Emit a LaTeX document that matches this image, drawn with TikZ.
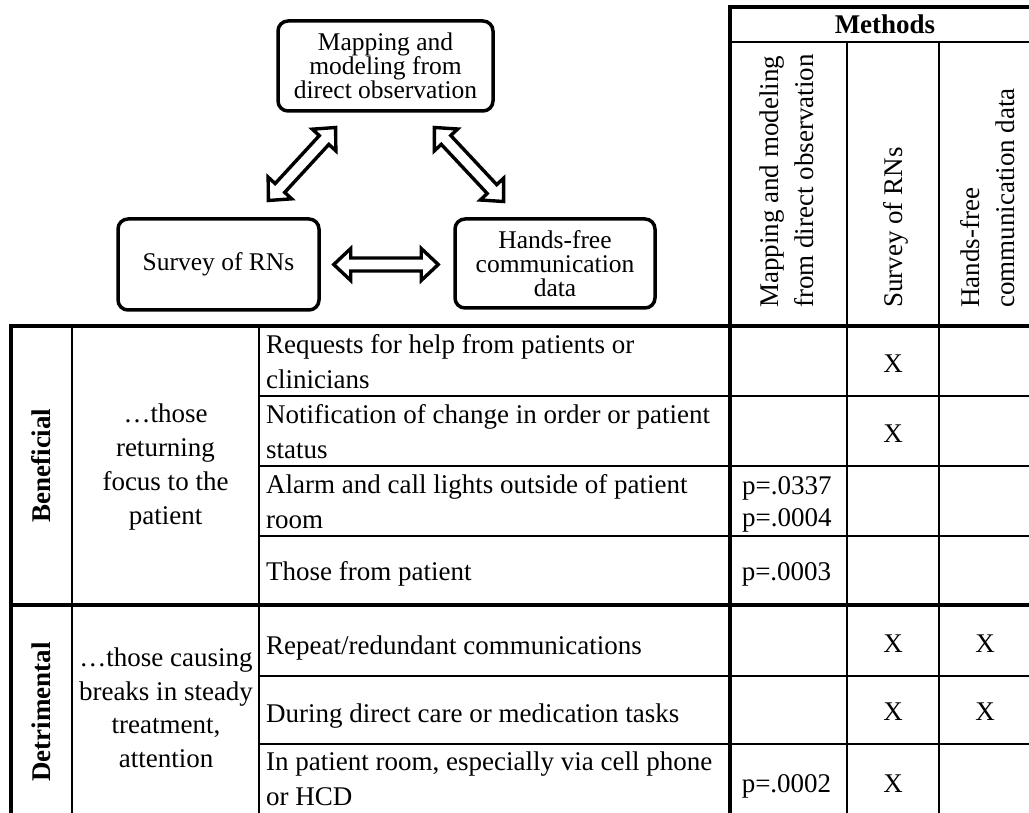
\documentclass[tikz,border=0pt]{standalone}
\usepackage{fontspec}
\setmainfont{Liberation Serif}
\usetikzlibrary{calc}

\newcommand{\cellfont}{\fontsize{27pt}{35pt}\selectfont}
\newcommand{\stagefont}{\fontsize{25.5pt}{24pt}\selectfont}

\tikzset{
  heavy/.style={line width=4.5pt, line join=miter},
  light/.style={line width=2pt},
  stage/.style={draw, line width=3.5pt, rounded corners=10pt, align=center,
    inner sep=0pt, font=\stagefont},
  entry/.style={inner sep=0pt, align=left, anchor=north west, font=\cellfont},
  single/.style={inner sep=0pt, anchor=base west, font=\cellfont},
  tick/.style={inner sep=0pt, anchor=base, font=\cellfont},
  group/.style={inner sep=0pt, align=center, font=\fontsize{27pt}{34pt}\selectfont},
  side/.style={inner sep=0pt, rotate=90, font=\cellfont\bfseries},
  head/.style={inner sep=0pt, rotate=90, anchor=west, align=left, font=\cellfont},
  % hollow double-headed block arrow between two points
  twoway/.style={draw, line width=3.4pt, line join=miter, to path={
    let \p1=(\tikztostart), \p2=(\tikztotarget),
        \n1={atan2(\y2-\y1,\x2-\x1)}
    in (\p1)
    -- ($(\p1)+(\n1:17pt)+(\n1+90:16pt)$)
    -- ($(\p1)+(\n1:17pt)+(\n1+90:6.5pt)$)
    -- ($(\p2)+(\n1:-17pt)+(\n1+90:6.5pt)$)
    -- ($(\p2)+(\n1:-17pt)+(\n1+90:16pt)$)
    -- (\p2)
    -- ($(\p2)+(\n1:-17pt)+(\n1-90:16pt)$)
    -- ($(\p2)+(\n1:-17pt)+(\n1-90:6.5pt)$)
    -- ($(\p1)+(\n1:17pt)+(\n1-90:6.5pt)$)
    -- ($(\p1)+(\n1:17pt)+(\n1-90:16pt)$)
    -- cycle}}
}

\begin{document}
\begin{tikzpicture}[x=1pt, y=-1pt]
\fill[white] (0,0) rectangle (1029,813);
\useasboundingbox (0,0) rectangle (1029,813);

% three data sources
\node[stage, minimum width=215pt, minimum height=90pt] (map) at (385.5,66)
  {Mapping and\\modeling from\\direct observation};
\node[stage, minimum width=201pt, minimum height=91pt] (survey) at (218.5,264.5)
  {Survey of RNs};
\node[stage, minimum width=200pt, minimum height=89pt] (hands) at (555,263.5)
  {Hands-free\\communication\\data};

\coordinate (sv-map) at ([shift={(49.9pt,16.75pt)}]survey.north);
\coordinate (map-sv) at ([shift={(-49.9pt,-14.75pt)}]map.south);
\coordinate (map-hf) at ([shift={(48.9pt,-14.75pt)}]map.south);
\coordinate (hf-map) at ([shift={(-51.4pt,15.75pt)}]hands.north);
\coordinate (sv-hf) at ([xshift=13pt]survey.east);
\coordinate (hf-sv) at ([xshift=-15pt]survey.east -| hands.west);

\draw[twoway] (sv-map) to (map-sv);
\draw[twoway] (map-hf) to (hf-map);
\draw[twoway] (sv-hf) to (hf-sv);

% table rules
\draw[heavy] (730,813) -- (730,7) -- (1032,7);
\draw[light] (730,42) -- (1032,42);
\draw[light] (847,42) -- (847,813);
\draw[light] (939,42) -- (939,813);
\draw[heavy] (1032,326) -- (11,326) -- (11,815);
\draw[heavy] (11,605) -- (1032,605);
\draw[light] (72,326) -- (72,815);
\draw[light] (259,326) -- (259,815);
\foreach \y in {396,466,536,676,744} \draw[light] (259,\y) -- (1032,\y);

% column headings
\node[inner sep=0pt, font=\cellfont\bfseries] (methods) at (885,24) {Methods};
\node[head] (h-map) at (787,308) {Mapping and modeling\\from direct observation};
\node[head] (h-survey) at (896,308) {Survey of RNs};
\node[head] (h-hands) at (988,308) {Hands-free\\communication data};

% row groups
\node[side] (beneficial) at (41,465.5) {Beneficial};
\node[side] (detrimental) at (41,712) {Detrimental};
\node[group] (g-ben) at (165.5,467.5) {…those\\returning\\focus to the\\patient};
\node[group, font=\fontsize{27pt}{33.5pt}\selectfont] (g-det) at (166,708)
  {…those causing\\breaks in steady\\treatment,\\attention};

% interruption types
\node[entry] (r1) at (266,334.6) {Requests for help from patients or\\clinicians};
\node[entry] (r2) at (266,404.6) {Notification of change in order or patient\\status};
\node[entry] (r3) at (266,474.6) {Alarm and call lights outside of patient\\room};
\node[single] (r4) at (266,580) {Those from patient};
\node[single] (r5) at (266,654) {Repeat/redundant communications};
\node[single] (r6) at (266,722) {During direct care or medication tasks};
\node[entry] (r7) at (266,751.6) {In patient room, especially via cell phone\\or HCD};

% findings per method
\node[tick] (x1) at (893,372) {X};
\node[tick] (x2) at (893,442) {X};
\node[inner sep=0pt, align=left, anchor=north west,
  font=\fontsize{27pt}{32pt}\selectfont] (p3) at (742,476.7) {p=.0337\\p=.0004};
\node[tick] (p4) at (786.5,580) {p=.0003};
\node[tick] (x5a) at (893,652) {X};
\node[tick] (x5b) at (985,652) {X};
\node[tick] (x6a) at (893,720) {X};
\node[tick] (x6b) at (985,720) {X};
\node[tick] (p7) at (786.5,792) {p=.0002};
\node[tick] (x7) at (893,792) {X};
\end{tikzpicture}
\end{document}
